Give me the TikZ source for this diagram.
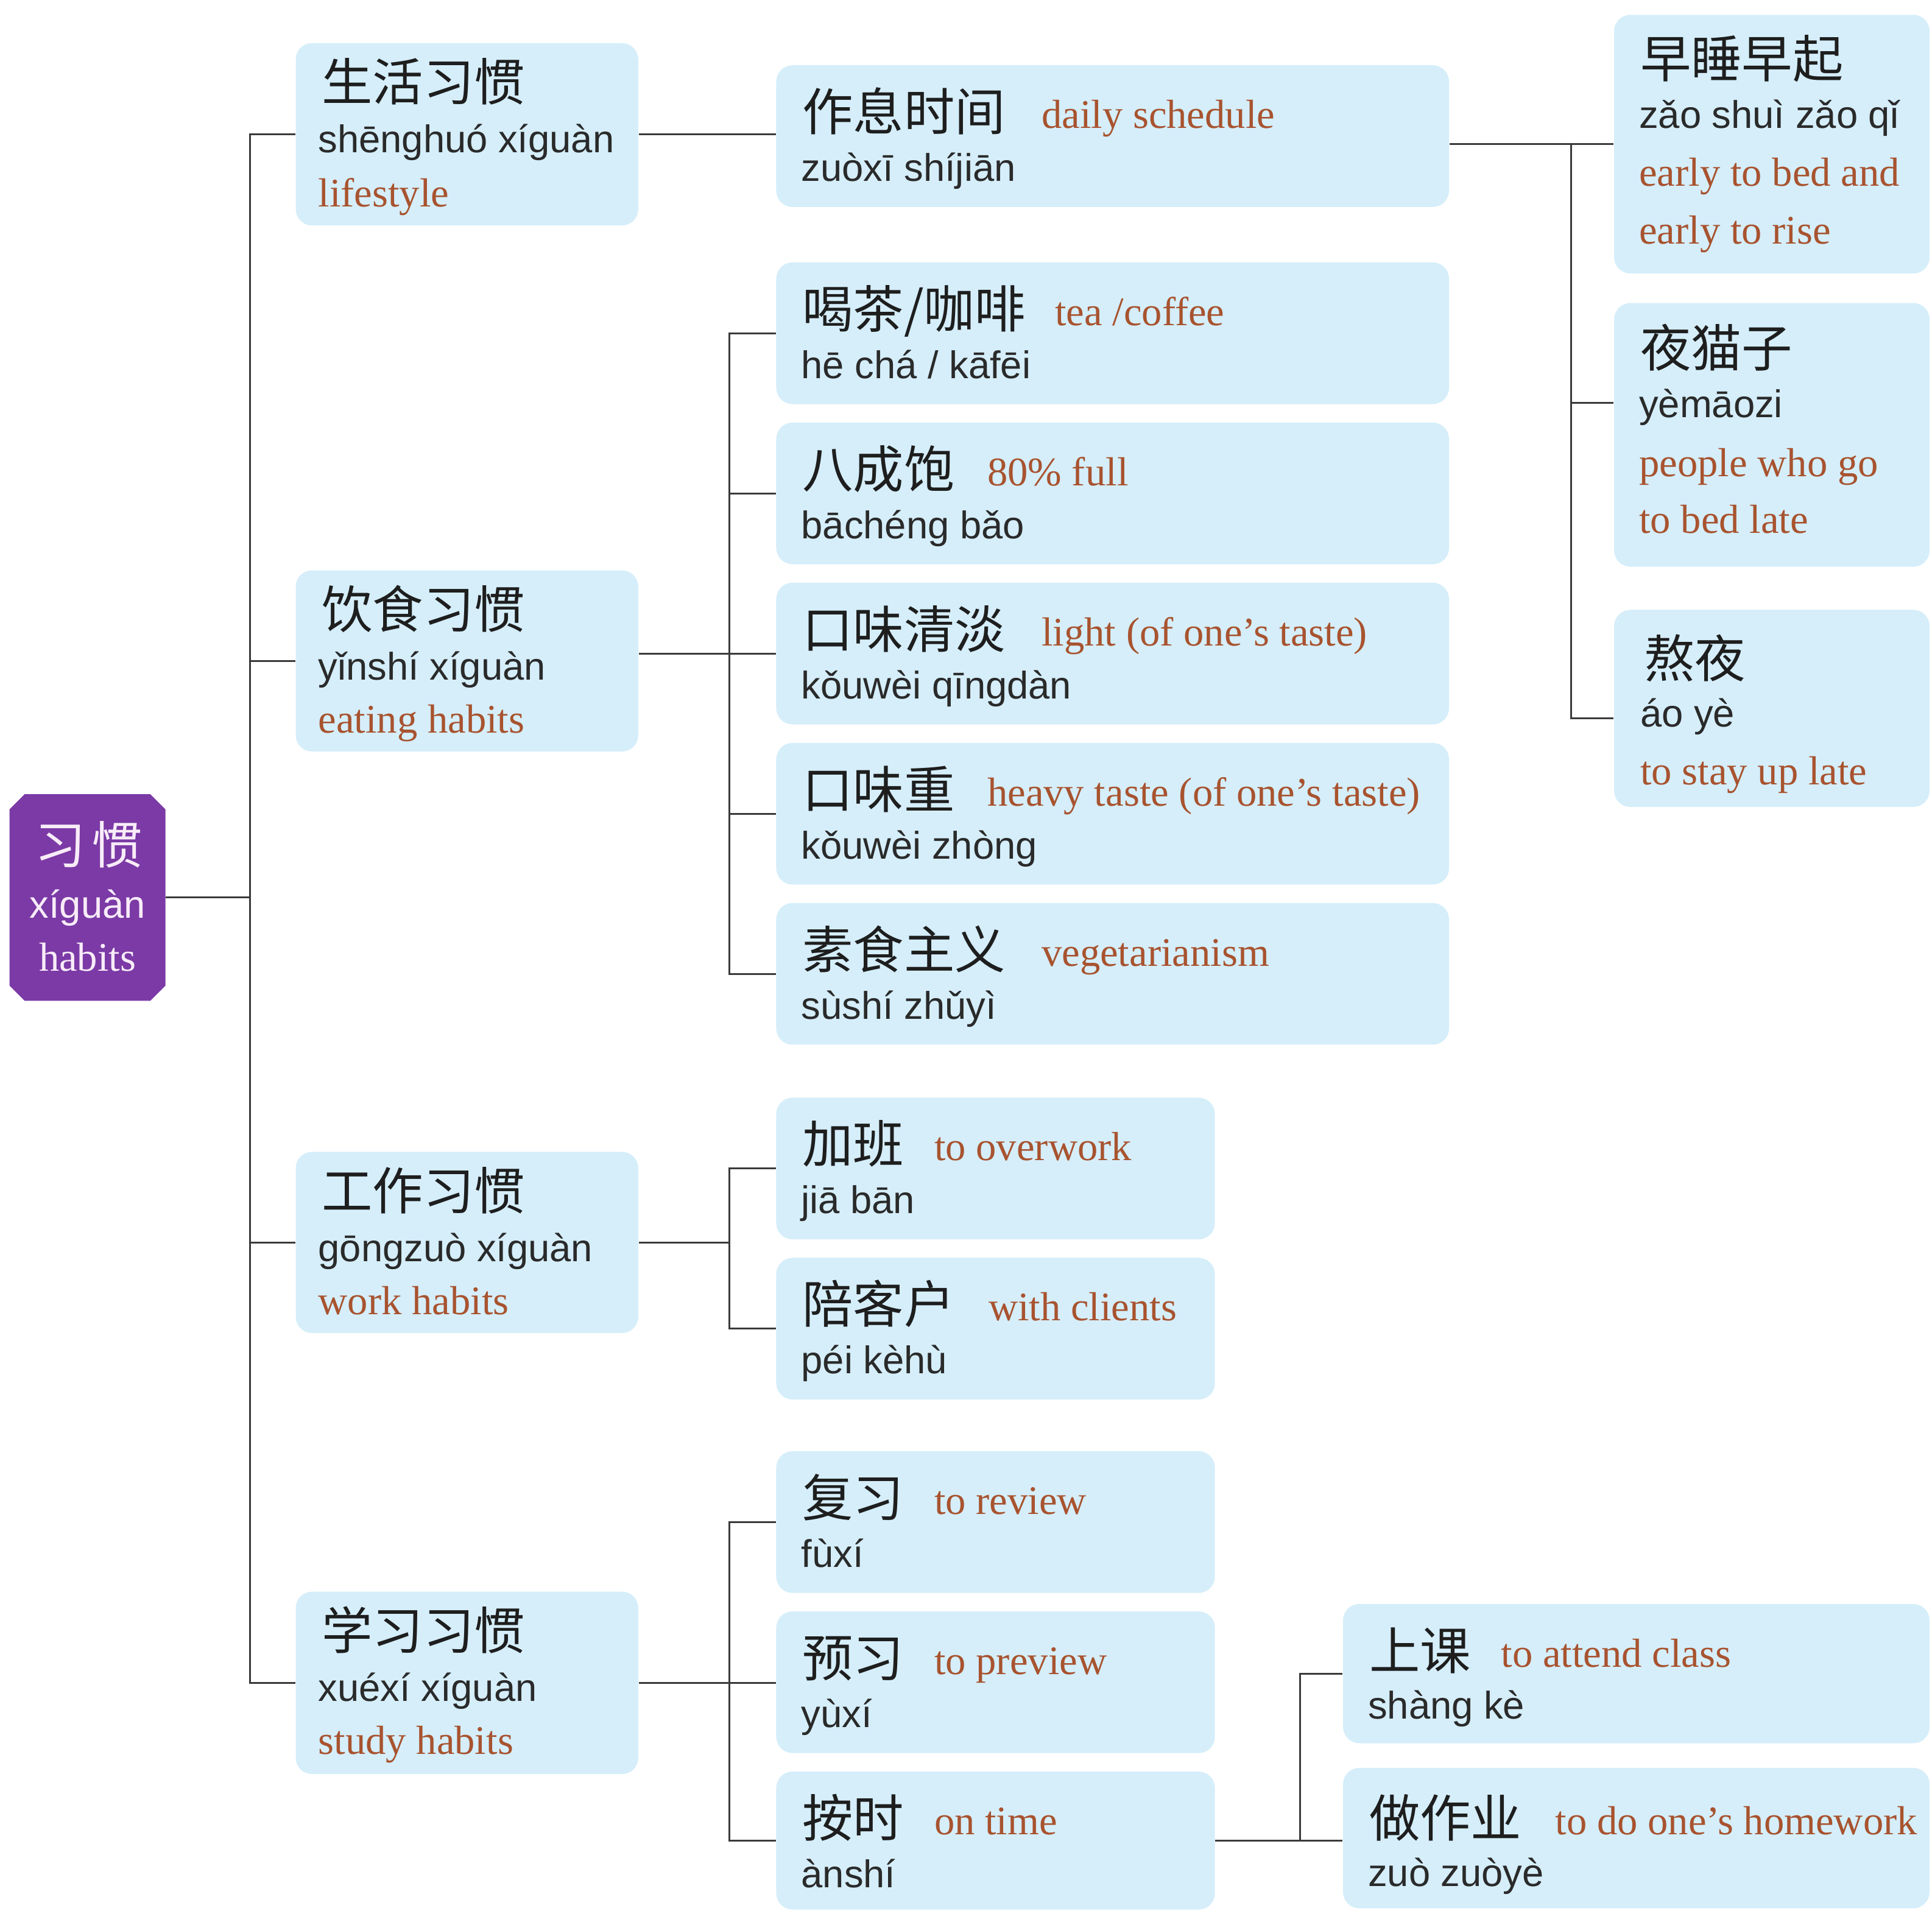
\documentclass[tikz,border=0pt]{standalone}
\usepackage{fontspec}
\newfontfamily\cjk{Noto Sans CJK SC}
\newfontfamily\pyf{Liberation Sans}
\newfontfamily\enf{Liberation Serif}
\usetikzlibrary{fit}
\definecolor{boxblue}{HTML}{D5EEFA}
\definecolor{rootpurple}{HTML}{7B3AA6}
\definecolor{engbrown}{HTML}{A8532F}
\definecolor{inkdark}{HTML}{1E1E1E}
\definecolor{pyink}{HTML}{2A2A2A}
\definecolor{linegray}{HTML}{3A3A3A}
\definecolor{roottext}{HTML}{F8ECF8}
\begin{document}
\begin{tikzpicture}[x=0.6069pt,y=-0.6069pt,
  box/.style={fill=boxblue, rounded corners=8pt, inner sep=0pt, draw=none},
  cn/.style={font=\cjk\fontsize{25}{25}\selectfont, text=inkdark, inner sep=0pt, anchor=base west},
  py/.style={font=\pyf\fontsize{19}{19}\selectfont, text=pyink, inner sep=0pt, anchor=base west},
  en/.style={font=\enf\fontsize{20}{20}\selectfont, text=engbrown, inner sep=0pt, anchor=base west},
  conn/.style={draw=linegray, line width=0.9pt}]
\useasboundingbox (0,0) rectangle (1568,1551);
\clip (0,0) rectangle (1568,1551);
\fill[white] (0,0) rectangle (1568,1551);

% ---------- boxes ----------
\node[inner sep=0pt, fit={(8,645) (134,812)}] (root) {};
\fill[rootpurple] ([xshift=7.5pt]root.north west) -- ([xshift=-7.5pt]root.north east)
  -- ([yshift=-7.5pt]root.north east) -- ([yshift=7.5pt]root.south east)
  -- ([xshift=-7.5pt]root.south east) -- ([xshift=7.5pt]root.south west)
  -- ([yshift=7.5pt]root.south west) -- ([yshift=-7.5pt]root.north west) -- cycle;

\node[box, fit={(240,35) (518,183)}] (la) {};
\node[box, fit={(240,463) (518,610)}] (lb) {};
\node[box, fit={(240,935) (518,1082)}] (lc) {};
\node[box, fit={(240,1292) (518,1440)}] (ld) {};

\node[box, fit={(630,53) (1176,168)}] (zx) {};
\node[box, fit={(630,213) (1176,328)}] (hc) {};
\node[box, fit={(630,343) (1176,458)}] (bc) {};
\node[box, fit={(630,473) (1176,588)}] (kq) {};
\node[box, fit={(630,603) (1176,718)}] (kz) {};
\node[box, fit={(630,733) (1176,848)}] (sz) {};

\node[box, fit={(630,891) (986,1006)}] (jb) {};
\node[box, fit={(630,1021) (986,1136)}] (pk) {};

\node[box, fit={(630,1178) (986,1293)}] (fx) {};
\node[box, fit={(630,1308) (986,1423)}] (yx) {};
\node[box, fit={(630,1438) (986,1550)}] (as) {};

\node[box, fit={(1090,1302) (1566,1415)}] (sk) {};
\node[box, fit={(1090,1435) (1566,1549)}] (zy) {};

\node[box, fit={(1310,12) (1566,222)}] (zs) {};
\node[box, fit={(1310,246) (1566,460)}] (ym) {};
\node[box, fit={(1310,495) (1566,655)}] (ay) {};

% ---------- texts ----------
\node[cn, anchor=base, text=roottext] (r1) at (72,701) {习\hspace{3pt}惯};
\node[py, anchor=base, text=roottext] (r2) at (71,745) {xíguàn};
\node[en, anchor=base, text=roottext] (r3) at (71,788) {habits};

\node[cn] (a1) at (261,82) {生活习惯};
\node[py] (a2) at (258,124) {shēnghuó xíguàn};
\node[en] (a3) at (258,168) {lifestyle};

\node[cn] (b1) at (261,510) {饮食习惯};
\node[py] (b2) at (258,552) {yǐnshí xíguàn};
\node[en] (b3) at (258,595) {eating habits};

\node[cn] (c1) at (261,982) {工作习惯};
\node[py] (c2) at (258,1024) {gōngzuò xíguàn};
\node[en] (c3) at (258,1067) {work habits};

\node[cn] (d1) at (261,1339) {学习习惯};
\node[py] (d2) at (258,1381) {xuéxí xíguàn};
\node[en] (d3) at (258,1424) {study habits};

\node[cn] (zx1) at (651,106) {作息时间};
\node[en] (zx2) at (845,104) {daily schedule};
\node[py] (zx3) at (650,147) {zuòxī shíjiān};

\node[cn] (hc1) at (651,266) {喝茶/咖啡};
\node[en] (hc2) at (856,264) {tea /coffee};
\node[py] (hc3) at (650,307) {hē chá / kāfēi};

\node[cn] (bc1) at (651,396) {八成饱};
\node[en] (bc2) at (801,394) {80\% full};
\node[py] (bc3) at (650,437) {bāchéng bǎo};

\node[cn] (kq1) at (651,526) {口味清淡};
\node[en] (kq2) at (845,524) {light (of one’s taste)};
\node[py] (kq3) at (650,567) {kǒuwèi qīngdàn};

\node[cn] (kz1) at (651,656) {口味重};
\node[en] (kz2) at (801,654) {heavy taste (of one’s taste)};
\node[py] (kz3) at (650,697) {kǒuwèi zhòng};

\node[cn] (sz1) at (651,786) {素食主义};
\node[en] (sz2) at (845,784) {vegetarianism};
\node[py] (sz3) at (650,827) {sùshí zhǔyì};

\node[cn] (jb1) at (651,944) {加班};
\node[en] (jb2) at (758,942) {to overwork};
\node[py] (jb3) at (650,985) {jiā bān};

\node[cn] (pk1) at (651,1074) {陪客户};
\node[en] (pk2) at (802,1072) {with clients};
\node[py] (pk3) at (650,1115) {péi kèhù};

\node[cn] (fx1) at (651,1231) {复习};
\node[en] (fx2) at (758,1229) {to review};
\node[py] (fx3) at (650,1272) {fùxí};

\node[cn] (yx1) at (651,1361) {预习};
\node[en] (yx2) at (758,1359) {to preview};
\node[py] (yx3) at (650,1402) {yùxí};

\node[cn] (as1) at (651,1491) {按时};
\node[en] (as2) at (758,1489) {on time};
\node[py] (as3) at (650,1532) {ànshí};

\node[cn] (sk1) at (1111,1355) {上课};
\node[en] (sk2) at (1218,1353) {to attend class};
\node[py] (sk3) at (1110,1395) {shàng kè};

\node[cn] (zy1) at (1111,1491) {做作业};
\node[en] (zy2) at (1262,1489) {to do one’s homework};
\node[py] (zy3) at (1110,1531) {zuò zuòyè};

\node[cn] (zs1) at (1331,63) {早睡早起};
\node[py] (zs2) at (1330,104) {zǎo shuì zǎo qǐ};
\node[en] (zs3) at (1330,151) {early to bed and};
\node[en] (zs4) at (1330,198) {early to rise};

\node[cn] (ym1) at (1331,298) {夜猫子};
\node[py] (ym2) at (1330,339) {yèmāozi};
\node[en] (ym3) at (1330,387) {people who go};
\node[en] (ym4) at (1330,433) {to bed late};

\node[cn] (ay1) at (1334,550) {熬夜};
\node[py] (ay2) at (1331,590) {áo yè};
\node[en] (ay3) at (1331,637) {to stay up late};

% ---------- connectors ----------
\coordinate (T) at (203,0);
\coordinate (S) at (592,0);
\coordinate (U) at (1055,0);
\coordinate (R) at (1275,0);
\coordinate (jym) at (1275,327);
\coordinate (jay) at (1275,583);

\draw[conn] (root.east) -- (T |- root.east);
\draw[conn] (la.west) -- (T |- la.west) -- (T |- ld.west) -- (ld.west);
\draw[conn] (lb.west) -- (T |- lb.west);
\draw[conn] (lc.west) -- (T |- lc.west);

\draw[conn] (la.east) -- (la.east -| zx.west);

\draw[conn] (lb.east |- kq.west) -- (kq.west);
\draw[conn] (hc.west) -- (S |- hc.west) -- (S |- sz.west) -- (sz.west);
\draw[conn] (bc.west) -- (S |- bc.west);
\draw[conn] (kz.west) -- (S |- kz.west);

\draw[conn] (lc.east) -- (S |- lc.east);
\draw[conn] (jb.west) -- (S |- jb.west) -- (S |- pk.west) -- (pk.west);

\draw[conn] (ld.east) -- (ld.east -| yx.west);
\draw[conn] (fx.west) -- (S |- fx.west) -- (S |- as.west) -- (as.west);

\draw[conn] (as.east) -- (as.east -| zy.west);
\draw[conn] (sk.west) -- (U |- sk.west) -- (U |- as.east);

\draw[conn] (zx.east |- zs.west) -- (zs.west);
\draw[conn] (R |- zs.west) -- (jay) -- (jay -| ay.west);
\draw[conn] (jym) -- (jym -| ym.west);
\end{tikzpicture}
\end{document}
